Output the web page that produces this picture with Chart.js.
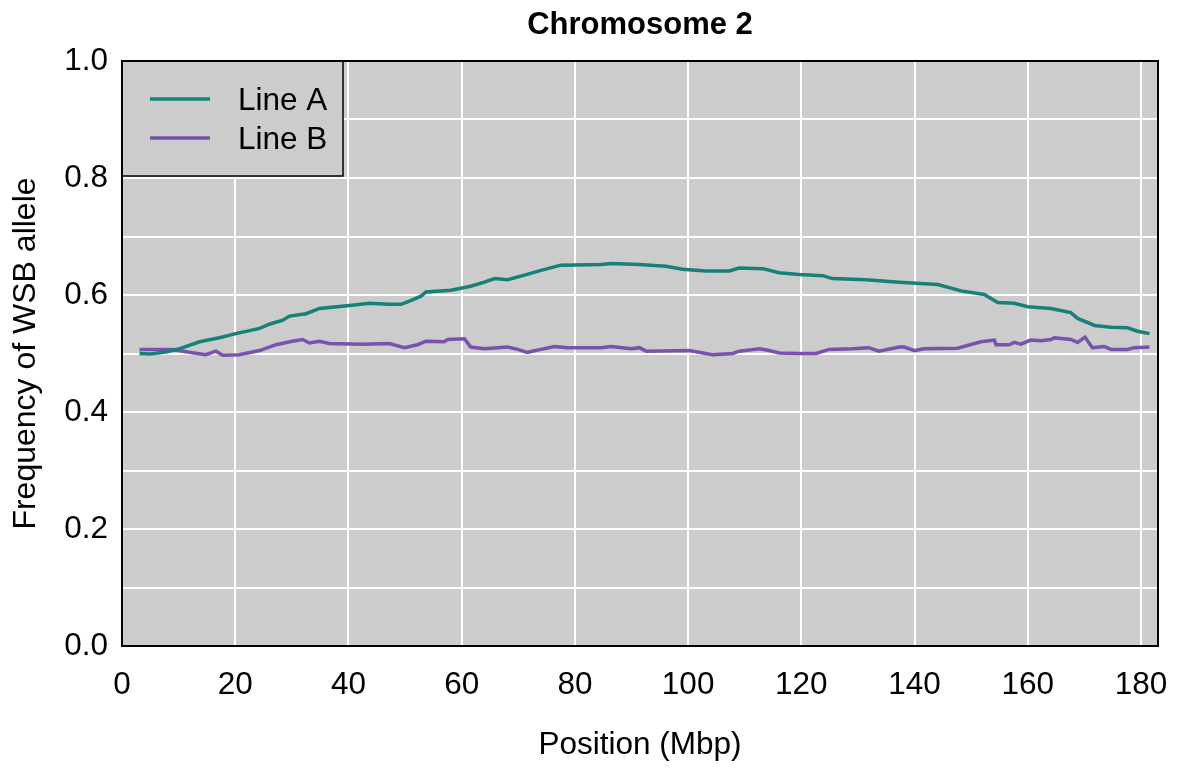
<!DOCTYPE html>
<html>
<head>
<meta charset="utf-8">
<title>Chromosome 2</title>
<script src="https://cdn.jsdelivr.net/npm/chart.js@4"></script>
<style>
  html, body { margin: 0; padding: 0; background: #fff; }
  #wrap { width: 1177px; height: 768px; }
</style>
</head>
<body>
<div id="wrap"><canvas id="chart"></canvas></div>
<script>
// positions (Mbp) and allele frequency
const posA = [3.1, 5, 8, 10.1, 13.7, 17.2, 20.1, 24.3, 26, 28.4, 29.6, 32.5, 34.9, 40.2, 43.7, 47.2, 49.3, 51.1, 52.8, 53.7,
  58.1, 61.6, 64, 65.8, 68.1, 71.1, 74, 77.5, 84.6, 86.4, 91.4, 96.1, 99, 103.2, 107.3, 109, 113.2, 116.1, 119.6, 123.8,
  125.5, 131.4, 137.3, 144.1, 148.2, 152.3, 154.7, 157.6, 160, 164.1, 167.6, 168.8, 171.8, 174.7, 177.6, 179.4, 181.5];
const lineA = [0.500, 0.499, 0.503, 0.508, 0.520, 0.527, 0.534, 0.543, 0.550, 0.557, 0.564, 0.568, 0.577, 0.582, 0.586, 0.584, 0.584, 0.591, 0.598, 0.605,
  0.608, 0.615, 0.622, 0.628, 0.626, 0.634, 0.642, 0.651, 0.652, 0.654, 0.652, 0.649, 0.644, 0.641, 0.641, 0.646, 0.645, 0.638, 0.635, 0.633,
  0.628, 0.626, 0.622, 0.618, 0.607, 0.601, 0.587, 0.586, 0.580, 0.577, 0.570, 0.560, 0.548, 0.545, 0.544, 0.538, 0.534];

const posB = [3.1, 6, 8.9, 11.9, 14.8, 16.6, 17.8, 20.7, 24.3, 27.2, 30.1, 31.9, 33.1, 34.9, 36.6, 42.5, 47.2, 49.9, 52.2, 53.7,
  56.9, 57.5, 60.5, 61.6, 64, 68.1, 69.9, 71.6, 74, 76.4, 78.7, 84.6, 86.4, 89.9, 91.4, 92.6, 100.2, 104.3, 107.9, 109,
  112.6, 114.3, 116.1, 119.6, 122.6, 124.9, 129, 131.9, 133.7, 137.3, 138.2, 140, 141.7, 147.6, 151.7, 154.1, 154.4, 156.7, 157.6, 158.8,
  160.5, 162.3, 164.1, 164.7, 167.6, 168.8, 170.1, 171.4, 173.5, 174.7, 177.6, 178.8, 181.5];
const lineB = [0.507, 0.507, 0.507, 0.502, 0.498, 0.504, 0.497, 0.498, 0.505, 0.515, 0.521, 0.524, 0.518, 0.521, 0.517, 0.516, 0.517, 0.510, 0.515, 0.521,
  0.520, 0.524, 0.525, 0.511, 0.508, 0.511, 0.507, 0.502, 0.507, 0.512, 0.510, 0.510, 0.512, 0.508, 0.510, 0.504, 0.505, 0.498, 0.500, 0.504,
  0.508, 0.505, 0.501, 0.500, 0.500, 0.507, 0.508, 0.510, 0.504, 0.511, 0.511, 0.505, 0.508, 0.509, 0.520, 0.523, 0.515, 0.515, 0.519, 0.516,
  0.523, 0.522, 0.524, 0.527, 0.524, 0.519, 0.528, 0.510, 0.512, 0.507, 0.507, 0.510, 0.511];

const seriesNames = ['Line A', 'Line B'];
const seriesColors = ['#16807a', '#7a52ad'];
const chartTitle = 'Chromosome 2';

const FONT = '"Liberation Sans", Arial, sans-serif';

function toPoints(xs, ys) {
  return xs.map((x, i) => ({ x: x, y: ys[i] }));
}

// grey panel behind the plot, black frame, title over the panel, legend box in the corner
const panelPlugin = {
  id: 'panel',
  beforeDraw(chart) {
    const a = chart.chartArea;
    const ctx = chart.ctx;
    ctx.save();
    ctx.fillStyle = '#cccccc';
    ctx.fillRect(a.left, a.top, a.right - a.left, a.bottom - a.top);
    ctx.restore();
  },
  afterDraw(chart) {
    const a = chart.chartArea;
    const ctx = chart.ctx;
    ctx.save();

    // title, centred on the plot panel
    ctx.fillStyle = '#000';
    ctx.font = 'bold 31px ' + FONT;
    ctx.textAlign = 'center';
    ctx.textBaseline = 'middle';
    ctx.fillText(chartTitle, (a.left + a.right) / 2, 25);

    // legend
    const bx = a.left, by = a.top, bw = 221, bh = 115;
    ctx.fillStyle = '#cccccc';
    ctx.fillRect(bx, by, bw, bh);
    ctx.strokeStyle = '#000';
    ctx.lineWidth = 1.5;
    ctx.strokeRect(bx, by, bw, bh);
    ctx.font = '31.5px ' + FONT;
    ctx.textAlign = 'left';
    ctx.fillStyle = '#000';
    chart.data.datasets.forEach((ds, i) => {
      const y = by + 38 + i * 39;
      ctx.strokeStyle = ds.borderColor;
      ctx.lineWidth = 3.5;
      ctx.beginPath();
      ctx.moveTo(bx + 28, y);
      ctx.lineTo(bx + 88, y);
      ctx.stroke();
      ctx.fillText(ds.label, bx + 116, y + 2);
    });

    // frame
    ctx.strokeStyle = '#000';
    ctx.lineWidth = 2;
    ctx.strokeRect(a.left, a.top, a.right - a.left, a.bottom - a.top);
    ctx.restore();
  }
};

new Chart(document.getElementById('chart'), {
  type: 'line',
  data: {
    datasets: [
      {
        label: seriesNames[0],
        data: toPoints(posA, lineA),
        borderColor: seriesColors[0],
        borderWidth: 3.5,
        pointRadius: 0,
        fill: false,
        tension: 0
      },
      {
        label: seriesNames[1],
        data: toPoints(posB, lineB),
        borderColor: seriesColors[1],
        borderWidth: 3.5,
        pointRadius: 0,
        fill: false,
        tension: 0
      }
    ]
  },
  options: {
    responsive: true,
    maintainAspectRatio: false,
    animation: false,
    layout: { padding: { left: 0, right: 19, top: 61, bottom: 0 } },
    scales: {
      x: {
        type: 'linear',
        min: 0,
        max: 183,
        afterFit: (scale) => { scale.height = 122; scale.paddingRight = 0; },
        grid: { color: '#ffffff', lineWidth: 2, drawTicks: false },
        border: { display: false },
        ticks: {
          stepSize: 20,
          includeBounds: false,
          padding: 20,
          color: '#000',
          font: { family: FONT, size: 31.5 },
          maxRotation: 0
        },
        title: {
          display: true,
          text: 'Position (Mbp)',
          color: '#000',
          font: { family: FONT, size: 31.5 },
          padding: { top: 0, bottom: 4 }
        }
      },
      y: {
        min: 0,
        max: 1,
        afterFit: (scale) => { scale.width = 122; },
        grid: { color: '#ffffff', lineWidth: 2, drawTicks: false },
        border: { display: false },
        ticks: {
          stepSize: 0.1,
          padding: 14,
          color: '#000',
          font: { family: FONT, size: 31.5 },
          callback: function(value, index) {
            return index % 2 === 0 ? Number(value).toFixed(1) : '';
          }
        },
        title: {
          display: true,
          text: 'Frequency of WSB allele',
          color: '#000',
          font: { family: FONT, size: 32 },
          padding: { top: 7, bottom: 0 }
        }
      }
    },
    plugins: {
      legend: { display: false },
      tooltip: { enabled: false },
      title: { display: false }
    }
  },
  plugins: [panelPlugin]
});
</script>
</body>
</html>
